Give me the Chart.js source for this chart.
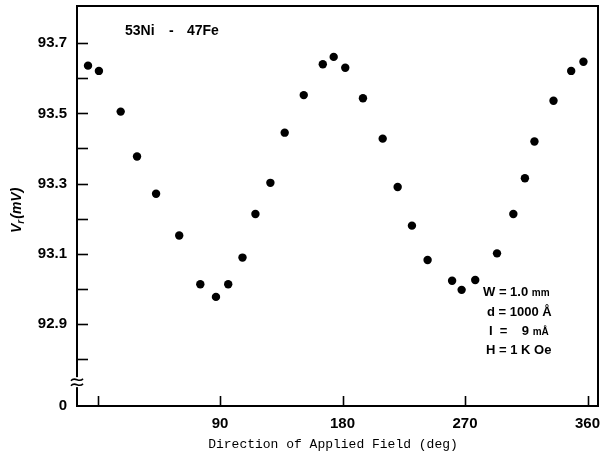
<!DOCTYPE html>
<html>
<head>
<meta charset="utf-8">
<script src="https://cdn.jsdelivr.net/npm/chart.js@4.4.0/dist/chart.umd.min.js"></script>
<style>
	html, body { margin: 0; padding: 0; background: #fff; }
	#wrap { width: 613px; height: 464px; }
</style>
</head>
<body>
<div id="wrap"><canvas id="chart" width="613" height="464"></canvas></div>
<script>
// field direction (deg) and measured voltage (mV)
var angles = [-7, 1, 17, 29, 43, 60, 75.5, 87, 96, 106.5, 116, 127, 137.5, 151.5, 165.5, 173.5,
	182, 195, 209.5, 220.5, 231, 242.5, 260.5, 267.5, 277.5, 293.5, 305.5, 314, 321, 335, 348, 357];
var voltages = [93.636, 93.621, 93.505, 93.377, 93.271, 93.152, 93.013, 92.977, 93.013, 93.089,
	93.213, 93.302, 93.445, 93.552, 93.640, 93.661, 93.630, 93.543, 93.428, 93.290, 93.180,
	93.082, 93.023, 92.997, 93.025, 93.101, 93.213, 93.315, 93.420, 93.536, 93.621, 93.647];

var yLabelTicks = [92.9, 93.1, 93.3, 93.5, 93.7];
var yMinorTicks = [92.8, 93.0, 93.2, 93.4, 93.6];
var xLabelTicks = [90, 180, 270, 360];
var xMarkTicks = [0, 90, 180, 270, 360];
var yBreakLabel = '0';
var yBreakAt = 92.734;

var sampleName = ['53Ni', '-', '47Fe'];
var conditions = [
	['W = 1.0 ', 'mm'],
	['d = 1000 Å', ''],
	['I  =    9 ', 'mÅ'],
	['H = 1 K Oe', '']
];
var xTitle = 'Direction of Applied Field (deg)';

(function () {
	'use strict';

	var yMin = 92.666,
		yMax = 93.806,
		sans = "'Liberation Sans', Arial, sans-serif";

	/**
	 * Frame, inward ticks, axis break and the text in the plot
	 */
	var framePlugin = {
		id: 'frame',
		afterDraw: function (chart) {
			var ctx = chart.ctx,
				area = chart.chartArea,
				xs = chart.scales.x,
				ys = chart.scales.y;

			ctx.save();
			ctx.strokeStyle = '#000';
			ctx.lineWidth = 2;
			ctx.strokeRect(area.left, area.top, area.right - area.left, area.bottom - area.top);

			ctx.lineWidth = 1.6;
			yLabelTicks.concat(yMinorTicks).forEach(function (v) {
				var py = Math.round(ys.getPixelForValue(v)) + 0.5;
				ctx.beginPath();
				ctx.moveTo(area.left, py);
				ctx.lineTo(area.left + 11, py);
				ctx.stroke();
			});
			xMarkTicks.forEach(function (v) {
				var px = Math.round(xs.getPixelForValue(v)) + 0.5;
				ctx.beginPath();
				ctx.moveTo(px, area.bottom);
				ctx.lineTo(px, area.bottom - 10);
				ctx.stroke();
			});

			// axis break
			var by = ys.getPixelForValue(yBreakAt);
			ctx.fillStyle = '#fff';
			ctx.fillRect(area.left - 2, by - 5, 4, 10);
			ctx.lineWidth = 1.6;
			[-2.5, 2.5].forEach(function (d) {
				ctx.beginPath();
				ctx.moveTo(area.left - 6, by + d + 1);
				ctx.bezierCurveTo(area.left - 2, by + d - 4, area.left + 2, by + d + 4, area.left + 6, by + d - 1);
				ctx.stroke();
			});

			ctx.fillStyle = '#000';
			ctx.textBaseline = 'middle';
			ctx.textAlign = 'left';

			// sample name
			ctx.font = 'bold 14px ' + sans;
			ctx.fillText(sampleName[0], 125, 31);
			ctx.fillText(sampleName[1], 169, 31);
			ctx.fillText(sampleName[2], 187, 31);

			// measurement conditions
			var rows = [[483, 292], [487, 312], [489, 331], [486, 350]];
			conditions.forEach(function (c, i) {
				ctx.font = 'bold 13px ' + sans;
				ctx.fillText(c[0], rows[i][0], rows[i][1]);
				if (c[1]) {
					var w = ctx.measureText(c[0]).width;
					ctx.font = 'bold 10px ' + sans;
					ctx.fillText(c[1], rows[i][0] + w, rows[i][1] + 1);
				}
			});

			// x title
			ctx.font = "13px 'Liberation Mono', monospace";
			ctx.textAlign = 'center';
			ctx.fillText(xTitle, 333, 445);

			// y title V_r(mV)
			ctx.translate(17, 210);
			ctx.rotate(-Math.PI / 2);
			ctx.textAlign = 'left';
			var x0 = -23;
			ctx.font = 'italic bold 14px ' + sans;
			ctx.fillText('V', x0, 0);
			x0 += ctx.measureText('V').width;
			ctx.font = 'italic bold 10px ' + sans;
			ctx.fillText('r', x0, 4);
			x0 += ctx.measureText('r').width + 1;
			ctx.font = 'italic bold 14px ' + sans;
			ctx.fillText('(mV)', x0, 0);
			ctx.restore();
		}
	};

	var points = angles.map(function (a, i) {
		return {x: a, y: voltages[i]};
	});

	new Chart(document.getElementById('chart'), {
		type: 'scatter',
		data: {
			datasets: [{
				data: points,
				backgroundColor: '#000',
				borderWidth: 0,
				pointRadius: 4.2,
				pointHoverRadius: 4.2
			}]
		},
		options: {
			responsive: false,
			animation: false,
			layout: {padding: {top: 6, right: 15, left: 0, bottom: 0}},
			plugins: {legend: {display: false}, tooltip: {enabled: false}},
			scales: {
				x: {
					type: 'linear',
					min: -15.1,
					max: 367.7,
					grid: {display: false, drawTicks: false},
					border: {display: false},
					afterBuildTicks: function (s) {
						s.ticks = xLabelTicks.map(function (v) { return {value: v}; });
					},
					afterFit: function (s) {
						s.height = 58;
						s.paddingLeft = 0;
						s.paddingRight = 0;
					},
					ticks: {
						padding: 9,
						color: '#000',
						font: {family: sans, size: 15, weight: 'bold'},
						callback: function (v) { return String(v); }
					}
				},
				y: {
					type: 'linear',
					min: yMin,
					max: yMax,
					grid: {display: false, drawTicks: false},
					border: {display: false},
					afterBuildTicks: function (s) {
						s.ticks = [{value: yMin}].concat(yLabelTicks.map(function (v) { return {value: v}; }));
					},
					afterFit: function (s) {
						s.width = 77;
						s.paddingTop = 0;
						s.paddingBottom = 0;
					},
					ticks: {
						padding: 10,
						color: '#000',
						font: {family: sans, size: 15, weight: 'bold'},
						callback: function (v) {
							return v === yMin ? yBreakLabel : v.toFixed(1);
						}
					}
				}
			}
		},
		plugins: [framePlugin]
	});
})();
</script>
</body>
</html>
